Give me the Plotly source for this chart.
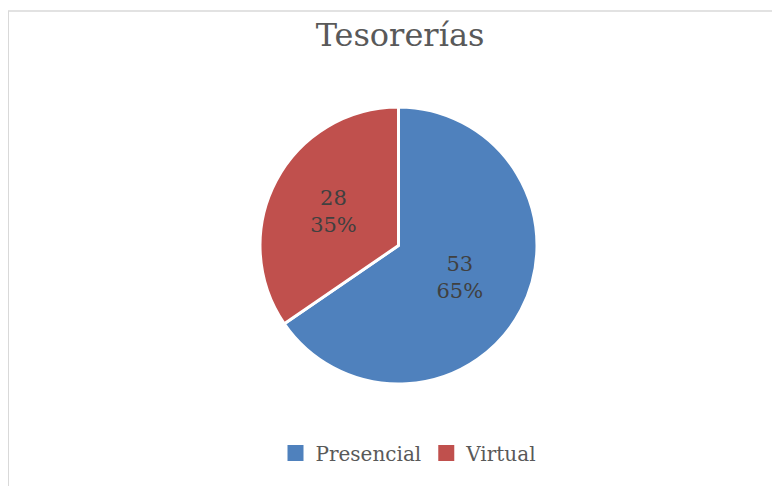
import plotly.graph_objects as go

categories = ["Presencial", "Virtual"]
values = [53, 28]
colors = ["#4F81BD", "#C0504D"]
title_text = "Tesorerías"

W, H = 780, 486
OX, OY = 8, 8  # page body offset
serif = "DejaVu Serif"

def px(x):
    return (x - OX) / W

def py(y):
    return 1 - (y - OY) / H

fig = go.Figure()
fig.add_trace(go.Pie(
    labels=categories,
    values=values,
    sort=False,
    direction="clockwise",
    rotation=0,
    marker=dict(colors=colors, line=dict(color="white", width=3)),
    texttemplate="%{value}<br>%{percent:.0%}",
    textposition="inside",
    insidetextorientation="horizontal",
    textfont=dict(family=serif, size=21, color="#404040"),
    domain=dict(x=[px(260), px(537)], y=[py(384), py(107)]),
    hoverinfo="label+value+percent",
    showlegend=False,
))

# legend entries with square swatches
for name, col in zip(categories, colors):
    fig.add_trace(go.Scatter(
        x=[None], y=[None], mode="markers", name=name,
        marker=dict(symbol="square", size=16, color=col, line=dict(width=0)),
        hoverinfo="skip",
    ))

fig.update_layout(
    width=W, height=H,
    margin=dict(l=0, r=0, t=0, b=0),
    paper_bgcolor="white",
    plot_bgcolor="white",
    xaxis=dict(visible=False),
    yaxis=dict(visible=False),
    title=dict(text=title_text, x=px(400), xanchor="center", y=py(35), yanchor="middle",
               font=dict(family=serif, size=32, color="#595959")),
    showlegend=True,
    legend=dict(orientation="h", x=px(409), xanchor="center", y=py(453), yanchor="middle",
                font=dict(family=serif, size=20, color="#595959"),
                itemwidth=30, traceorder="normal", tracegroupgap=0),
    shapes=[
        dict(type="line", xref="paper", yref="paper", x0=0, x1=1, y0=py(11), y1=py(11),
             line=dict(color="#D9D9D9", width=1.5)),
        dict(type="line", xref="paper", yref="paper", x0=0, x1=0, y0=py(11), y1=0,
             line=dict(color="#D9D9D9", width=2)),
    ],
)

fig.write_html("out.html")
